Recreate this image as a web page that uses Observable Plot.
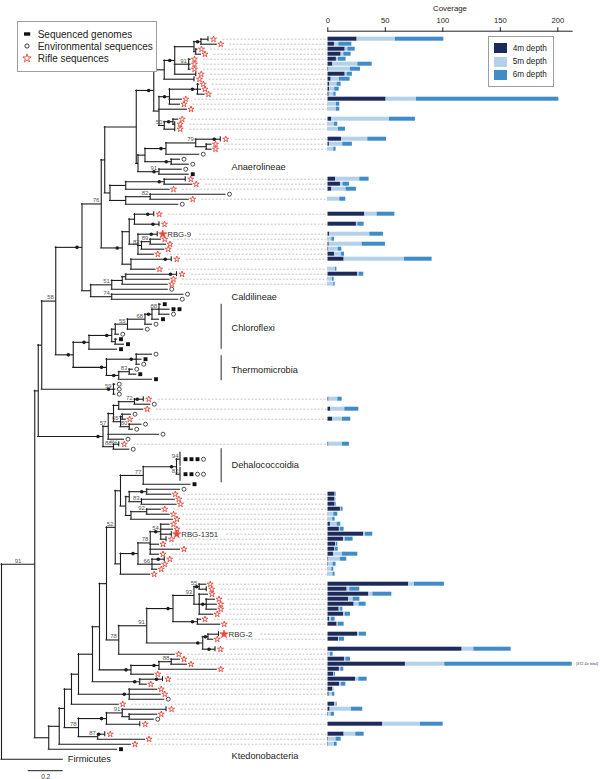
<!DOCTYPE html>
<html>
<head>
<meta charset="utf-8">
<script src="https://cdn.jsdelivr.net/npm/d3@7"></script>
<script src="https://cdn.jsdelivr.net/npm/@observablehq/plot@0.6"></script>
<style>
  body { margin: 0; background: #fff; }
  #wrap { position: relative; width: 600px; height: 779px; overflow: hidden;
          font-family: "Liberation Sans", Arial, Helvetica, sans-serif; color: #222; }
  #tree, #bars { position: absolute; top: 0; }
  #tree { left: 0; }
  #bars { left: 300px; }
  .legend { position: absolute; border: 1.4px solid #9d9d9d; background: #fff; box-sizing: border-box; }
  .legend .row { position: absolute; left: 0; display: flex; align-items: center; white-space: nowrap; }
  .legend svg { display: block; }
</style>
</head>
<body>
<div id="wrap">
  <div id="tree"></div>
  <div id="bars"></div>
  <div id="leg1" class="legend"></div>
  <div id="leg2" class="legend"></div>
</div>
<script>
// ---------------- DATA ----------------
// Internal tree nodes: [id, parent, distance from root (subs/site), bootstrap label, filled-dot flag]
const treeNodes = [
  ["R", null, 0, "", 0],
  ["A", "R", 0.19, "91", 0],
  ["B", "A", 0.21, "", 0],
  ["C", "B", 0.23, "", 0],
  ["D", "C", 0.31, "58", 0],
  ["N76a", "D", 0.46, "", 1],
  ["N99", "N76a", 0.57, "76", 0],
  ["N104", "N99", 0.59, "", 0],
  ["An0", "N104", 0.77, "", 0],
  ["An1", "An0", 0.87, "", 1],
  ["P1", "An1", 0.93, "", 0],
  ["P2", "P1", 0.99, "", 1],
  ["P3", "P2", 1.10, "", 0],
  ["P4", "P3", 1.14, "", 1],
  ["P5", "P3", 1.11, "", 0],
  ["P6", "P2", 1.07, "91", 0],
  ["Q", "An1", 0.90, "", 0],
  ["P9", "Q", 0.96, "", 1],
  ["P10", "P9", 1.12, "", 1],
  ["P11", "Q", 0.93, "50", 0],
  ["P12", "P11", 0.98, "", 1],
  ["An2", "An0", 0.78, "", 0],
  ["R1", "An2", 0.82, "", 0],
  ["R2", "R1", 0.94, "", 1],
  ["R3", "R2", 1.11, "79", 0],
  ["R4", "R3", 1.17, "", 0],
  ["R5", "R1", 0.97, "", 1],
  ["R6", "An2", 0.90, "91", 1],
  ["N109", "N104", 0.62, "", 0],
  ["S1", "N109", 0.71, "", 0],
  ["S2", "S1", 0.93, "", 1],
  ["S3", "N109", 0.71, "", 0],
  ["S4", "S3", 0.85, "82", 0],
  ["RB", "N99", 0.69, "", 1],
  ["RB1", "RB", 0.73, "", 0],
  ["RB2", "RB1", 0.76, "", 0],
  ["RB5", "RB1", 0.78, "", 0],
  ["RB7", "RB5", 0.80, "82", 0],
  ["RB8", "RB7", 0.85, "89", 0],
  ["RB9", "RB", 0.74, "", 0],
  ["Cal", "N76a", 0.51, "", 0],
  ["C51", "Cal", 0.63, "51", 0],
  ["C1", "C51", 0.69, "", 0],
  ["C2", "C1", 0.71, "", 0],
  ["C74", "Cal", 0.63, "74", 0],
  ["CT", "D", 0.41, "", 1],
  ["ChA", "CT", 0.50, "", 1],
  ["Ch1", "ChA", 0.63, "", 1],
  ["Ch2", "Ch1", 0.65, "", 0],
  ["Ch55", "Ch2", 0.72, "55", 0],
  ["Ch68", "Ch55", 0.82, "68", 0],
  ["Ch3", "Ch68", 0.86, "", 1],
  ["Ch88", "Ch3", 0.90, "88", 0],
  ["Ch4", "Ch1", 0.65, "", 0],
  ["Th", "CT", 0.60, "", 1],
  ["Th1", "Th", 0.77, "", 1],
  ["Th2", "Th", 0.67, "", 1],
  ["Th83", "Th2", 0.73, "83", 0],
  ["N59", "C", 0.64, "59", 1],
  ["M", "B", 0.58, "", 1],
  ["M57", "M", 0.61, "57", 0],
  ["M1", "M57", 0.64, "", 0],
  ["M2", "M1", 0.67, "", 0],
  ["M72", "M2", 0.76, "72", 0],
  ["M65", "M1", 0.68, "65", 0],
  ["M3", "M65", 0.69, "", 0],
  ["M80", "M65", 0.73, "80", 0],
  ["M88", "M", 0.64, "88", 0],
  ["E", "A", 0.27, "", 0],
  ["F", "E", 0.33, "", 0],
  ["G", "F", 0.36, "", 0],
  ["H", "G", 0.40, "", 0],
  ["I", "H", 0.44, "", 0],
  ["J", "I", 0.52, "", 0],
  ["J2", "J", 0.56, "", 0],
  ["K", "J2", 0.60, "", 0],
  ["N52", "K", 0.65, "52", 0],
  ["N77", "N52", 0.68, "", 0],
  ["Deh", "N77", 0.81, "77", 0],
  ["Deh1", "Deh", 1.00, "", 1],
  ["Nd", "N77", 0.71, "", 0],
  ["Nd1", "Nd", 0.73, "", 0],
  ["Nd2", "Nd1", 0.83, "", 1],
  ["Nd83", "Nd1", 0.80, "83", 0],
  ["Nd92", "Nd", 0.74, "", 0],
  ["Nd92a", "Nd92", 0.83, "92", 0],
  ["Nx", "N52", 0.68, "", 0],
  ["Nx1", "Nx", 0.78, "", 1],
  ["N78c", "Nx1", 0.85, "78", 0],
  ["N54", "N78c", 0.91, "54", 1],
  ["N66", "Nx1", 0.86, "66", 0],
  ["N78b", "K", 0.67, "78", 0],
  ["N91", "N78b", 0.83, "91", 0],
  ["N170", "N91", 0.98, "", 1],
  ["N93", "N170", 1.10, "93", 0],
  ["N55", "N93", 1.13, "55", 1],
  ["N71", "N93", 1.13, "", 0],
  ["N3", "N71", 1.17, "", 1],
  ["N202", "N170", 1.12, "", 1],
  ["NR2", "N91", 1.15, "", 1],
  ["Nr1", "NR2", 1.18, "", 1],
  ["Kb", "J2", 0.74, "", 1],
  ["Kb1", "Kb", 0.90, "", 1],
  ["Kb88", "Kb1", 0.97, "88", 0],
  ["Kc1", "J", 0.79, "", 1],
  ["Kc2", "I", 0.73, "", 1],
  ["K78", "G", 0.44, "78", 0],
  ["K91a", "K78", 0.60, "", 1],
  ["K91b", "K91a", 0.69, "91", 0],
  ["K91c", "K91b", 0.73, "", 0],
  ["K87", "K78", 0.55, "87", 0]
];

// Leaves 1..130, top to bottom
const leafParent = [
  "P4","P4","P5","P5","P6","P6","P6","P2","P1","P10",
  "P10","P10","P9","P9","Q","P12","P12","P11","R3","R4",
  "R4","R2","R5","R5","R6","R6","S2","S2","S1","S4",
  "S4","S3","RB2","RB2","RB5","RB8","RB8","RB7","RB5","RB9",
  "RB9","C2","C2","C1","C51","C74","C74","Ch88","Ch88","Ch88",
  "Ch3","Ch68","Ch55","Ch2","Ch4","Ch4","ChA","Th1","Th1","Th1",
  "Th83","Th83","Th2","N59","N59","N59","M72","M72","M2","M3",
  "M3","M80","M80","M57","M57","M88","M88","Deh1","Deh1","Deh",
  "Nd2","Nd2","Nd83","Nd83","Nd92a","Nd92a","Nd92","N54","N54","N54",
  "N54","N78c","N78c","N78c","N66","N66","N66","Nx","N55","N55",
  "N71","N3","N3","N3","N71","N202","N202","Nr1","Nr1","NR2",
  "N78b","Kb88","Kb88","Kb1","Kb","Kc1","Kc1","Kc2","Kc2","Kc2",
  "H","K91b","K91c","K91c","K91a","K87","K87","F","E","R"
];
const leafDepth = [
  1.18,1.23,1.12,1.14,1.08,1.08,1.08,1.11,1.10,1.13,
  1.14,1.16,1.03,1.02,1.06,1.01,0.99,0.99,1.25,1.20,
  1.20,1.13,1.02,1.07,1.03,1.07,1.05,1.09,0.96,1.28,
  1.07,1.01,0.87,0.90,0.89,0.91,0.94,0.93,0.87,0.97,
  0.88,1.00,0.96,0.95,0.95,1.04,1.01,0.91,0.96,0.96,
  0.90,0.86,0.81,0.67,0.66,0.70,0.66,0.86,0.80,0.79,
  0.75,0.77,0.86,0.65,0.65,0.65,0.81,0.85,0.81,0.74,
  0.71,0.80,0.75,0.90,0.70,0.67,0.73,1.02,1.02,1.08,
  1.02,0.97,0.99,1.00,0.91,0.96,0.98,0.96,0.98,0.97,
  0.94,0.90,1.02,0.90,0.93,0.91,0.89,0.85,1.17,1.17,
  1.18,1.22,1.23,1.23,1.21,1.14,1.25,1.24,1.21,1.22,
  0.99,1.02,1.06,1.23,0.87,0.92,0.83,0.89,0.91,0.93,
  0.67,0.94,0.89,0.87,0.79,0.59,0.82,0.74,0.66,0.35
];
// vertical slot (row) of each leaf
const leafSlot = [
  0,1,2,3,4,5,6,7,8,9,
  10,11,12,13,14,16,17,18,20,21,
  22,23,24,25,26,27,28,29,30,31,
  32,33,35,37,39,40,41,42,43,44,
  46,47,48,49,50,51,52,53,54,55,
  56,57,58,59,60,61,62,63,64,65,
  66,67,68,69,70,71,72,73,74,75,
  76,77,78,79,80,81,82,84,87,89,
  90,91,92,93,94,95,96,97,98,99,
  100,101,102,103,104,105,106,107,109,110,
  111,112,113,114,115,116,117,119,120,122,
  123,124,125,126,127,128,129,130,131,132,
  133,134,135,136,137,139,140,141,142,144
];
// s = Rifle sequence, S = named Rifle genome, o = environmental sequence, g = sequenced genome
const leafMark = [
  "s","s","s","s","s","s","s","s","s","s",
  "s","s","s","s","s","s","s","s","s","s",
  "s","o","o","o","o","g","s","s","s","o",
  "s","o","s","s","S","s","s","s","s","s",
  "s","s","s","s","o","o","o","g","gg","o",
  "g","o","o","o","g","g","g","o","g","o",
  "o","g","g","o","o","o","s","o","s","o",
  "s","o","o","o","o","s","o","gggo","ggoo","g",
  "o","s","s","s","s","s","s","s","s","S",
  "s","s","s","s","s","s","s","s","s","s",
  "s","s","s","s","s","s","s","S","s","s",
  "s","s","s","s","s","s","s","s","s","o",
  "s","s","s","o","s","s","s","s","g",""
];
const leafNames = {35: "RBG-9", 90: "RBG-1351", 108: "RBG-2", 130: "Firmicutes"};
const leafSupport = {76: "92", 78: "94", 79: "82"};
const tickLeaves = [1, 8, 9, 17, 18, 19, 27, 33, 34, 35, 40, 42, 67, 76, 90, 91, 95, 100, 108, 110, 116, 122, 125, 126];
const collapsedLeaves = [78, 79];
const dotLeaves = [19, 33, 34, 35, 40, 42, 67, 95, 110, 116, 126];

const groupNames = ["Anaerolineae", "Caldilineae", "Chloroflexi", "Thermomicrobia", "Dehalococcoidia", "Ktedonobacteria"];
const groupSlot = [25.6, 51.6, 57.7, 66.1, 85.1, 143.4];
const groupBarFrom = [null, null, 53, 63.3, 81.9, null];
const groupBarTo = [null, null, 62, 68.3, 88.7, null];

// Coverage bars (one per Rifle sequence)
const barLeaf = [1,2,3,4,5,6,7,8,9,10,11,12,13,14,15,16,17,18,19,20,21,
  27,28,29,31, 33,34,35,36,37,38,39,40,41,42,43,44, 67,69,71,76,
  82,83,84,85,86,87,88,89,90,91,92,93,94,95,96,97,98,99,100,101,102,103,104,105,106,107,108,109,110,
  111,112,113,114,115,116,117,118,119, 121,122,123,125,126,127,128];
const cov4m = [25.5,5.8,15.1,11.6,7.5,4.3,0.9,15.1,2.9,1.7, 1.7,1.2,50.7,0.3,0.3,3.5,0.3,0.3,11.9,1.4, 0.3,
  6.7,11.0,3.5,0.3, 32.2,24.9,1.7,0.3,1.2,0.9,5.8,14.2,0.3,26.1,0.3,0.3, 1.0,2.6,4.1,0.9,
  6.4,6.1,6.4,11.0,0.3,0.3,2.3,10.1,31.3,13.6, 6.7,6.1,5.2,0.9,0.6,0.3,0.3,70.4,16.8,35.7,
  18.0,22.9,9.9,13.9,1.7,8.1,26.1,9.3,116.8,0.3, 14.5,67.5,10.1,5.2,24.1,10.4,4.1,1.2,
  6.1,2.0,0.6,47.8,14.2,0.6,0.6];
const cov5m = [33.3,3.8,2.3,2.3,1.8,21.8,18.8,1.7,7.2,6.4, 4.4,4.0,26.4,7.2,7.2,50.1,5.5,9.0,22.9,11.6, 4.9,
  21.1,2.3,12.4,10.1, 10.7,1.2,34.8,3.2,28.7,8.1,6.1,52.5,6.4,1.1,3.8,4.9, 7.7,12.2,8.7,11.9,
  0.6,0.3,0.3,0.6,4.9,4.0,5.8,0.9,1.5,1.5, 0.8,0.5,7.6,10.1,4.0,3.2,4.3,4.9,2.3,3.5,
  4.1,4.3,1.2,1.2,1.5,0.9,1.4,0.8,10.2,2.0, 1.2,34.2,1.2,0.6,2.9,1.5,0.5,2.9,
  1.1,18.6,2.3,32.8,10.1,6.6,5.2];
const cov6m = [42.1,11.3,6.4,6.4,6.6,12.5,8.7,4.6,9.3,3.5, 3.8,2.0,123.8,2.9,2.9,22.6,2.9,6.1,16.2,8.4, 2.0,
  8.1,5.5,9.0,5.2, 15.4,5.5,11.9,2.3,20.2,3.2,2.6,24.0,1.2,4.1,1.4,1.2, 3.8,12.2,7.2,6.0,
  0.5,0.6,0.6,1.7,3.5,2.0,3.2,3.2,6.3,6.9, 1.2,2.4,13.3,5.5,2.6,1.7,1.7,26.1,8.7,16.5,
  5.8,6.1,2.0,4.6,3.2,5.2,6.1,4.4,32.4,2.3, 4.0,270.7,2.6,0.9,7.2,3.8,0.6,2.0,
  0.9,9.8,2.9,19.7,7.3,4.4,2.3];
const depthLabels = ["4m depth", "5m depth", "6m depth"];
const depthColors = ["#1d2b5c", "#b3d1ea", "#3f8cc6"];
const coverageTicks = [0, 50, 100, 150, 200];
const coverageMax = 212.5;
const scaleBarLength = 0.2;

const legendItems = [
  {label: "Sequenced genomes", sym: "g"},
  {label: "Environmental sequences", sym: "o"},
  {label: "Rifle sequences", sym: "s"}
];

// ---------------- LAYOUT ----------------
const treeDomain = [0, 1.86], treeRange = [1, 326.5];
const slotDomain = [0, 144], slotRange = [38.7, 758.7];
const ppu = (treeRange[1] - treeRange[0]) / (treeDomain[1] - treeDomain[0]);
const px = v => v / ppu;
const RED = "#e4463b", INK = "#1c1c1c";

const nodeMap = new Map();
for (const [id, parent, depth, support, dot] of treeNodes)
  nodeMap.set(id, {id, parent, depth, support, dot, children: [], leaf: false});
leafParent.forEach((p, i) => {
  const n = i + 1;
  nodeMap.set("L" + n, {id: "L" + n, n, parent: p, depth: leafDepth[i], slot: leafSlot[i],
    mark: leafMark[i], children: [], leaf: true});
});
for (const node of nodeMap.values()) if (node.parent) nodeMap.get(node.parent).children.push(node);
function layout(node) {
  if (node.leaf) return (node.y = node.slot);
  node.children.forEach(layout);
  node.children.sort((a, b) => a.y - b.y);
  node.y = (node.children[0].y + node.children[node.children.length - 1].y) / 2;
  return node.y;
}
layout(nodeMap.get("R"));

const hEdges = [], vEdges = [], nodeDots = [], supportsEnd = [], supportsMid = [];
for (const node of nodeMap.values()) {
  const par = node.parent ? nodeMap.get(node.parent) : null;
  if (par) hEdges.push({x1: par.depth, x2: node.depth, y: node.y});
  if (!node.leaf) {
    vEdges.push({x: node.depth, y1: node.children[0].y, y2: node.children[node.children.length - 1].y});
    if (node.dot && par) nodeDots.push({x: node.depth - Math.min(px(5), (node.depth - par.depth) / 2), y: node.y});
    if (node.support && par) {
      if (par.parent == null) supportsMid.push({x: (par.depth + node.depth) / 2, y: node.y, text: node.support});
      else supportsEnd.push({x: node.depth - px(1.8), y: node.y, text: node.support});
    }
  }
}
const leaves = [...nodeMap.values()].filter(d => d.leaf).sort((a, b) => a.n - b.n);
const leafDots = dotLeaves.map(n => { const L = leaves[n - 1]; return {x: L.depth - px(6), y: L.slot}; });
const ticks = tickLeaves.map(n => { const L = leaves[n - 1]; return {x: L.depth, y1: L.slot - 0.5, y2: L.slot + 0.5}; })
  .concat(collapsedLeaves.map(n => { const L = leaves[n - 1]; return {x: L.depth, y1: L.slot - 1.4, y2: L.slot + 1.4}; }));
const leafSupports = Object.entries(leafSupport).map(([n, t]) => { const L = leaves[n - 1]; return {x: L.depth - px(1.5), y: L.slot, text: t}; });

const markers = [];
for (const L of leaves) {
  const off = (tickLeaves.includes(L.n) || collapsedLeaves.includes(L.n)) ? 1.5 : 0;
  [...L.mark].forEach((ch, k) => markers.push({x: L.depth + px(off + 4 + 6 * k), y: L.slot, type: ch}));
}
const names = Object.entries(leafNames).map(([n, t]) => {
  const L = leaves[n - 1];
  return {x: L.depth + px(L.mark ? 10 : 5), y: L.slot, text: t, big: !L.mark};
});
const dashRows = barLeaf.map(n => {
  const L = leaves[n - 1];
  const nm = leafNames[n];
  const pad = 13 + (nm ? nm.length * 4.3 + 6 : 0) + (tickLeaves.includes(n) ? 2 : 0);
  return {x1: L.depth + px(pad), x2: treeDomain[1], y: L.slot};
});
const groupLabels = groupNames.map((g, i) => ({text: g, y: groupSlot[i], x: treeDomain[0] + px(230)}));
const groupBars = groupNames.map((g, i) => ({y1: groupBarFrom[i], y2: groupBarTo[i], x: treeDomain[0] + px(219.7)}))
  .filter(d => d.y1 != null);
const scaleBar = [{x1: px(26.7), x2: px(26.7) + scaleBarLength, y: 146.3, text: String(scaleBarLength)}];

const font = "Liberation Sans, Arial, Helvetica, sans-serif";

const treePlot = Plot.plot({
  width: 330, height: 779, margin: 0,
  x: {domain: treeDomain, range: treeRange, axis: null},
  y: {domain: slotDomain, range: slotRange, axis: null},
  style: {fontFamily: font, background: "transparent", overflow: "visible"},
  marks: [
    Plot.ruleY(dashRows, {y: "y", x1: "x1", x2: "x2", stroke: "#b9b9b9", strokeWidth: 0.8, strokeDasharray: "2,1.6"}),
    Plot.ruleY(hEdges, {y: "y", x1: "x1", x2: "x2", stroke: INK, strokeWidth: 1.1, strokeLinecap: "square"}),
    Plot.ruleX(vEdges, {x: "x", y1: "y1", y2: "y2", stroke: INK, strokeWidth: 1.1, strokeLinecap: "square"}),
    Plot.ruleX(ticks, {x: "x", y1: "y1", y2: "y2", stroke: INK, strokeWidth: 1.1}),
    Plot.dot(nodeDots, {x: "x", y: "y", r: 1.8, fill: INK}),
    Plot.dot(leafDots, {x: "x", y: "y", r: 1.8, fill: INK}),
    Plot.text(supportsEnd, {x: "x", y: "y", text: "text", dy: -3.6, fontSize: 6, fill: "#555", textAnchor: "end"}),
    Plot.text(supportsMid, {x: "x", y: "y", text: "text", dy: -3.6, fontSize: 6, fill: "#555", textAnchor: "middle"}),
    Plot.text(leafSupports, {x: "x", y: "y", text: "text", dy: -3.6, fontSize: 6, fill: "#555", textAnchor: "end"}),
    Plot.dot(markers.filter(d => d.type === "g"), {x: "x", y: "y", symbol: "square", r: 2.2, fill: "#111"}),
    Plot.dot(markers.filter(d => d.type === "o"), {x: "x", y: "y", symbol: "circle", r: 2, fill: "white", stroke: "#222", strokeWidth: 0.8}),
    Plot.dot(markers.filter(d => d.type === "s"), {x: "x", y: "y", symbol: "star", r: 1.9, fill: "white", stroke: RED, strokeWidth: 0.9}),
    Plot.dot(markers.filter(d => d.type === "S"), {x: "x", y: "y", symbol: "star", r: 2.6, fill: RED, stroke: RED, strokeWidth: 0.6}),
    Plot.text(names.filter(d => !d.big), {x: "x", y: "y", text: "text", fontSize: 7.8, fill: "#333", textAnchor: "start"}),
    Plot.text(names.filter(d => d.big), {x: "x", y: "y", text: "text", fontSize: 9.4, fill: "#222", textAnchor: "start"}),
    Plot.ruleX(groupBars, {x: "x", y1: "y1", y2: "y2", stroke: "#666", strokeWidth: 1.4}),
    Plot.text(groupLabels, {x: "x", y: "y", text: "text", fontSize: 9.2, fill: "#222", textAnchor: "start"}),
    Plot.ruleY(scaleBar, {y: "y", x1: "x1", x2: "x2", stroke: INK, strokeWidth: 1}),
    Plot.text(scaleBar, {x: d => (d.x1 + d.x2) / 2, y: "y", text: "text", dy: 6.5, fontSize: 6.5, fill: "#333"})
  ]
});
document.getElementById("tree").append(treePlot);

// ---------------- BARS ----------------
const barSegs = [];
const overflow = [];
barLeaf.forEach((n, i) => {
  let c = 0;
  const vals = [cov4m[i], cov5m[i], cov6m[i]];
  vals.forEach((v, k) => {
    barSegs.push({x1: c, x2: c + v, y1: leafSlot[n - 1] - 0.4, y2: leafSlot[n - 1] + 0.4, depth: depthLabels[k]});
    c += v;
  });
  if (c > coverageMax) overflow.push({x: coverageMax, y: leafSlot[n - 1], text: `(${c.toFixed(1)}x total)`});
});

const barPlot = Plot.plot({
  width: 300, height: 779,
  marginLeft: 27.3, marginRight: 28.3, marginTop: 30.7, marginBottom: 0,
  x: {domain: [0, coverageMax], range: [27.3, 271.7]},
  y: {domain: slotDomain, range: slotRange, axis: null},
  color: {domain: depthLabels, range: depthColors},
  style: {fontFamily: font, background: "transparent", overflow: "visible"},
  marks: [
    Plot.rect(barSegs, {x1: "x1", x2: "x2", y1: "y1", y2: "y2", fill: "depth", clip: true}),
    Plot.axisX({anchor: "top", ticks: coverageTicks, tickSize: 4.5, tickPadding: 4, fontSize: 7.6, label: null}),
    Plot.frame({anchor: "top", stroke: "#222"}),
    Plot.text(["Coverage"], {frameAnchor: "top", dy: -25.5, fontSize: 7.8, fill: "#222"}),
    Plot.text(overflow, {x: "x", y: "y", text: "text", dx: 3.5, textAnchor: "start", fontSize: 3.9, fill: "#444"})
  ]
});
document.getElementById("bars").append(barPlot);

// ---------------- LEGENDS ----------------
function symSvg(sym) {
  const w = 10, h = 10;
  let inner = "";
  if (sym === "g") inner = `<rect x="2" y="3.3" width="6.2" height="3.4" fill="#111"/>`;
  else if (sym === "o") inner = `<circle cx="5" cy="5" r="2.1" fill="#fff" stroke="#222" stroke-width="0.9"/>`;
  else {
    const p = d3.symbol(d3.symbolStar, Math.PI * 2.6 * 2.6)();
    inner = `<path transform="translate(5,5.3)" d="${p}" fill="#fff" stroke="${RED}" stroke-width="0.9"/>`;
  }
  return `<svg width="${w}" height="${h}" viewBox="0 0 ${w} ${h}">${inner}</svg>`;
}
const leg1 = document.getElementById("leg1");
Object.assign(leg1.style, {left: "16.7px", top: "20.7px", width: "140px", height: "51px"});
legendItems.forEach((it, i) => {
  const row = document.createElement("div");
  row.className = "row";
  Object.assign(row.style, {top: (7.6 + 12 * i) + "px", left: "4.5px", height: "10px", fontSize: "10px", gap: "5.5px"});
  row.innerHTML = symSvg(it.sym) + `<span>${it.label}</span>`;
  leg1.append(row);
});
const leg2 = document.getElementById("leg2");
Object.assign(leg2.style, {left: "487.7px", top: "36px", width: "66.6px", height: "51.3px"});
depthLabels.forEach((lab, i) => {
  const row = document.createElement("div");
  row.className = "row";
  Object.assign(row.style, {top: (6.3 + 13.3 * i) + "px", left: "5.6px", height: "10px", fontSize: "8.2px", gap: "5.4px"});
  row.innerHTML = `<svg width="13" height="10"><rect width="13" height="10" fill="${depthColors[i]}"/></svg><span>${lab}</span>`;
  leg2.append(row);
});
</script>
</body>
</html>
